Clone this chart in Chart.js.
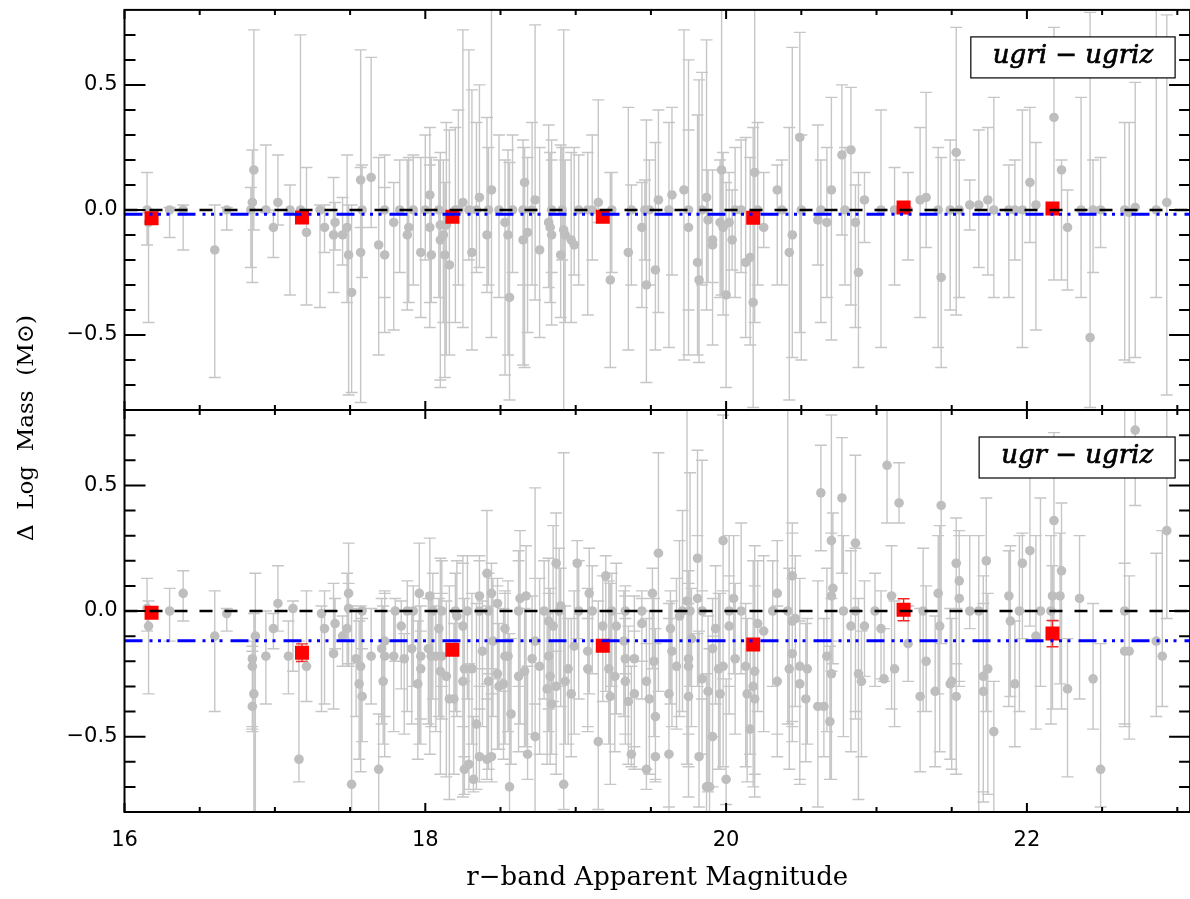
<!DOCTYPE html>
<html>
<head>
<meta charset="utf-8">
<script src="https://cdn.jsdelivr.net/npm/chart.js@4"></script>
<style>
  html, body { margin: 0; padding: 0; background: #fff; overflow: hidden; }
  canvas { position: absolute; left: 0; top: 0; }
</style>
</head>
<body>
<canvas id="bottomPanel" width="1200" height="899"></canvas>
<canvas id="topPanel" width="1200" height="420"></canvas>
<script>
// axis setup
const xMin = 16, xMax = 23.085;
const yMin = -0.8, yMax = 0.8;
const xTicks = [16, 18, 20, 22];
const yTicks = [-0.5, 0.0, 0.5];

// binned means (red squares) and mean offsets (blue lines)
const binMag = [16.18, 17.18, 18.18, 19.18, 20.18, 21.18, 22.17];
const topBin = [-0.033, -0.030, -0.027, -0.027, -0.031, 0.010, 0.006];
const topBinErr = [0.01, 0.01, 0.01, 0.01, 0.01, 0.015, 0.012];
const botBin = [-0.007, -0.166, -0.154, -0.138, -0.133, 0.005, -0.090];
const botBinErr = [0.02, 0.035, 0.02, 0.02, 0.02, 0.044, 0.052];
const topMean = -0.017;
const botMean = -0.118;

// individual galaxies: [r mag, delta log mass, error down, error up]
const topGals = [
  [16.15, 0.00, 0.14, 0.15], [16.16, -0.05, 0.40, 0.05], [16.30, 0.00, 0.11, 0.01], [16.39, 0.00, 0.16, 0.02],
  [16.60, -0.16, 0.51, 0.18], [16.68, 0.00, 0.08, 0.01], [16.86, 0.16, 0.24, 0.56], [16.85, 0.03, 0.32, 0.21],
  [16.84, 0.00, 0.23, 0.09], [16.94, 0.00, 0.01, 0.26], [16.99, -0.07, 0.12, 0.07], [17.02, 0.03, 0.09, 0.19],
  [17.10, 0.00, 0.34, 0.10], [17.17, 0.00, 0.02, 0.70], [17.21, -0.09, 0.29, 0.26], [17.30, 0.00, 0.39, 0.02],
  [17.33, -0.07, 0.10, 0.09], [17.39, -0.10, 0.23, 0.23], [17.40, -0.05, 0.11, 0.08], [17.45, -0.10, 0.12, 0.15],
  [17.48, -0.07, 0.30, 0.29], [17.49, -0.18, 0.56, 0.20], [17.51, -0.33, 0.40, 0.35], [17.57, 0.12, 0.19, 0.52],
  [17.57, -0.17, 0.60, 0.34], [17.58, 0.00, 0.27, 0.18], [17.64, 0.13, 0.20, 0.48], [17.69, -0.14, 0.44, 0.35],
  [17.73, -0.18, 0.31, 0.27], [17.73, 0.00, 0.35, 0.22],
  [17.79, -0.05, 0.43, 0.16], [17.88, -0.10, 0.30, 0.30], [17.89, -0.07, 0.30, 0.28], [17.97, -0.17, 0.26, 0.38],
  [18.03, 0.06, 0.53, 0.27], [18.03, -0.07, 0.30, 0.25], [18.04, -0.18, 0.19, 0.39], [18.10, -0.06, 0.62, 0.26],
  [18.10, -0.12, 0.59, 0.35], [18.12, -0.10, 0.35, 0.30], [18.13, -0.18, 0.49, 0.29], [18.14, -0.06, 0.52, 0.41],
  [18.16, -0.22, 0.36, 0.54], [18.20, 0.00, 0.45, 0.33], [18.25, 0.03, 0.50, 0.69], [18.29, 0.00, 0.20, 0.64],
  [18.31, -0.17, 0.39, 0.65], [18.36, 0.05, 0.28, 0.45], [18.41, -0.10, 0.23, 0.47], [18.44, 0.08, 0.59, 0.80],
  [18.53, -0.05, 0.61, 0.25], [18.55, -0.10, 0.48, 0.34], [18.56, -0.35, 0.41, 0.54], [18.66, 0.11, 0.74, 0.14],
  [18.65, -0.12, 0.50, 0.40], [18.68, -0.09, 0.40, 0.30], [18.73, 0.04, 0.40, 0.70], [18.76, -0.16, 0.35, 0.41],
  [18.82, -0.05, 0.26, 0.39], [18.83, -0.07, 0.30, 0.30], [18.84, -0.10, 0.36, 0.38], [18.90, -0.18, 0.25, 0.44],
  [18.92, -0.08, 0.80, 0.80], [18.93, -0.10, 0.35, 0.30], [18.97, -0.12, 0.33, 0.35], [18.99, -0.14, 0.12, 0.39],
  [19.08, 0.00, 0.42, 0.23], [19.15, 0.03, 0.08, 0.41], [19.23, -0.28, 0.35, 0.43], [19.35, -0.17, 0.39, 0.58],
  [19.44, -0.07, 0.32, 0.18], [19.47, -0.30, 0.39, 0.66], [19.53, -0.24, 0.32, 0.51],
  [17.83, 0.00, 0.25, 0.20], [17.92, 0.00, 0.30, 0.22], [18.00, 0.00, 0.20, 0.30], [18.09, 0.00, 0.35, 0.20],
  [18.22, 0.00, 0.30, 0.40], [18.34, 0.00, 0.25, 0.35], [18.42, 0.00, 0.30, 0.25], [18.49, 0.00, 0.35, 0.30],
  [18.58, 0.00, 0.25, 0.30], [18.65, 0.00, 0.30, 0.25], [18.71, 0.00, 0.30, 0.35], [18.84, 0.00, 0.25, 0.20],
  [18.91, 0.00, 0.20, 0.25], [19.02, 0.00, 0.30, 0.22], [19.11, 0.00, 0.20, 0.30], [19.24, 0.00, 0.25, 0.15],
  [19.37, 0.00, 0.30, 0.10], [19.46, 0.00, 0.20, 0.12],
  [19.55, 0.04, 0.45, 0.36], [19.64, 0.06, 0.32, 0.35], [19.72, 0.08, 0.68, 0.64], [19.75, -0.07, 0.51, 0.39],
  [19.81, -0.21, 0.37, 0.59], [19.82, -0.28, 0.33, 0.80], [19.87, 0.05, 0.45, 0.63], [19.88, -0.04, 0.25, 0.20],
  [19.91, -0.12, 0.17, 0.28], [19.91, -0.14, 0.40, 0.30], [19.96, -0.05, 0.30, 0.25], [19.97, 0.16, 0.50, 0.80],
  [19.98, -0.07, 0.35, 0.30], [20.00, -0.34, 0.37, 0.45], [20.02, -0.05, 0.30, 0.20], [20.04, -0.12, 0.12, 0.20],
  [20.13, -0.21, 0.30, 0.50], [20.16, -0.19, 0.35, 0.40], [20.18, -0.37, 0.42, 0.70], [20.19, 0.15, 0.60, 0.80],
  [20.25, -0.07, 0.08, 0.22], [20.34, 0.08, 0.38, 0.10], [20.44, -0.10, 0.49, 0.75], [20.42, -0.17, 0.59, 0.50],
  [20.49, 0.29, 0.78, 0.42], [20.61, -0.04, 0.18, 0.38], [20.67, -0.05, 0.30, 0.30], [20.70, 0.08, 0.60, 0.37],
  [20.77, 0.22, 0.32, 0.28], [20.83, 0.24, 0.62, 0.25], [20.86, -0.05, 0.42, 0.15], [20.88, -0.25, 0.38, 0.40],
  [20.92, 0.04, 0.17, 0.11], [21.29, 0.04, 0.47, 0.29],
  [19.49, 0.00, 0.30, 0.20], [19.62, 0.00, 0.55, 0.35], [19.75, 0.00, 0.40, 0.60], [19.84, 0.00, 0.30, 0.55],
  [20.06, 0.00, 0.35, 0.25], [20.10, 0.00, 0.25, 0.28], [20.21, 0.00, 0.30, 0.35], [20.37, 0.00, 0.30, 0.20],
  [20.50, 0.00, 0.60, 0.30], [20.63, 0.00, 0.45, 0.20], [20.79, 0.00, 0.30, 0.25], [21.03, 0.00, 0.55, 0.40],
  [21.12, 0.00, 0.30, 0.17], [21.21, 0.00, 0.20, 0.15],
  [21.33, 0.05, 0.20, 0.42], [21.43, -0.27, 0.36, 0.48], [21.53, 0.23, 0.65, 0.50], [21.62, 0.02, 0.10, 0.10],
  [21.68, 0.02, 0.25, 0.30], [21.74, 0.04, 0.30, 0.29], [22.02, 0.11, 0.24, 0.30], [22.06, 0.02, 0.50, 0.25],
  [22.18, 0.37, 0.65, 0.36], [22.23, 0.16, 0.44, 0.04], [22.27, -0.07, 0.25, 0.15], [22.42, -0.51, 0.28, 1.30],
  [22.68, -0.01, 0.60, 0.36], [22.72, 0.01, 0.60, 0.50], [22.93, 0.03, 0.77, 0.75], [22.86, 0.00, 0.35, 0.80],
  [22.44, 0.00, 0.25, 0.20], [22.49, 0.00, 0.15, 0.21], [22.36, 0.00, 0.35, 0.45], [22.65, 0.00, 0.60, 0.35],
  [21.88, 0.00, 0.35, 0.18], [21.92, 0.00, 0.20, 0.20], [21.97, 0.00, 0.55, 0.40], [21.41, 0.00, 0.55, 0.25],
  [21.49, 0.00, 0.40, 0.28], [21.55, 0.00, 0.35, 0.20], [21.78, 0.00, 0.35, 0.45]
];

const botGals = [
  [16.15, 0.01, 0.09, 0.12], [16.16, -0.06, 0.27, 0.10], [16.30, 0.00, 0.12, 0.09], [16.39, 0.07, 0.11, 0.09],
  [16.60, -0.10, 0.30, 0.18], [16.68, -0.01, 0.07, 0.02], [16.85, -0.19, 0.27, 0.05], [16.85, -0.22, 0.25, 0.10],
  [16.86, -0.33, 0.48, 0.32], [16.85, -0.38, 0.10, 0.22], [16.87, -0.10, 0.71, 0.25], [16.94, -0.18, 0.19, 0.18],
  [16.99, -0.07, 0.08, 0.06], [17.02, 0.03, 0.11, 0.15], [17.09, -0.18, 0.15, 0.14], [17.12, 0.01, 0.25, 0.03],
  [17.16, -0.59, 0.09, 0.47], [17.21, -0.22, 0.14, 0.30], [17.31, -0.01, 0.39, 0.03], [17.33, -0.07, 0.30, 0.15],
  [17.39, -0.17, 0.22, 0.28], [17.40, -0.05, 0.10, 0.10], [17.45, -0.10, 0.12, 0.08], [17.48, -0.07, 0.15, 0.22],
  [17.49, 0.07, 0.29, 0.20], [17.49, 0.01, 0.22, 0.10], [17.51, -0.69, 0.30, 0.71], [17.54, -0.19, 0.23, 0.20],
  [17.57, -0.22, 0.42, 0.24], [17.56, -0.29, 0.30, 0.25], [17.58, -0.34, 0.18, 0.31], [17.58, 0.00, 0.15, 0.01],
  [17.64, -0.18, 0.19, 0.19], [17.69, -0.63, 0.18, 0.22], [17.71, -0.15, 0.30, 0.20], [17.72, -0.28, 0.25, 0.30],
  [17.73, -0.18, 0.40, 0.25], [17.73, -0.12, 0.30, 0.20],
  [17.79, -0.18, 0.30, 0.18], [17.80, 0.00, 0.20, 0.05], [17.84, -0.06, 0.25, 0.10], [17.86, -0.19, 0.30, 0.10],
  [17.88, 0.00, 0.40, 0.12], [17.91, -0.15, 0.30, 0.15], [17.95, -0.29, 0.30, 0.25], [17.96, 0.07, 0.60, 0.20],
  [17.97, -0.18, 0.35, 0.20], [17.97, -0.23, 0.20, 0.15], [18.02, -0.15, 0.30, 0.20], [18.03, 0.06, 0.63, 0.23],
  [18.04, -0.18, 0.28, 0.25], [18.07, -0.18, 0.30, 0.20], [18.09, -0.07, 0.35, 0.12], [18.10, -0.24, 0.41, 0.45],
  [18.11, -0.18, 0.25, 0.25], [18.14, -0.26, 0.40, 0.30], [18.16, -0.35, 0.40, 0.45], [18.19, -0.35, 0.30, 0.30],
  [18.21, -0.02, 0.40, 0.22], [18.25, -0.28, 0.46, 0.50], [18.25, -0.06, 0.40, 0.25], [18.26, -0.23, 0.35, 0.28],
  [18.26, -0.63, 0.10, 0.35], [18.29, -0.61, 0.10, 0.40], [18.31, -0.23, 0.30, 0.30], [18.32, -0.67, 0.05, 0.25],
  [18.34, -0.45, 0.26, 0.48], [18.36, -0.58, 0.10, 0.35], [18.36, 0.06, 0.45, 0.16], [18.38, -0.16, 0.30, 0.20],
  [18.41, -0.59, 0.08, 0.30], [18.41, 0.15, 0.50, 0.25], [18.42, -0.28, 0.35, 0.30], [18.44, -0.58, 0.10, 0.35],
  [18.44, 0.07, 0.40, 0.12], [18.45, -0.12, 0.30, 0.25], [18.48, 0.03, 0.30, 0.10], [18.48, -0.25, 0.30, 0.35],
  [18.49, -0.30, 0.25, 0.25], [18.52, -0.29, 0.30, 0.30], [18.53, -0.07, 0.25, 0.15], [18.53, -0.18, 0.35, 0.25],
  [18.55, -0.18, 0.30, 0.30], [18.56, -0.70, 0.10, 0.61], [18.57, -0.41, 0.20, 0.30], [18.62, -0.26, 0.30, 0.50],
  [18.63, 0.05, 0.50, 0.27], [18.66, -0.24, 0.30, 0.25], [18.67, 0.06, 0.60, 0.20], [18.68, -0.57, 0.10, 0.35],
  [18.71, -0.19, 0.30, 0.25], [18.73, -0.12, 0.25, 0.25], [18.73, -0.50, 0.30, 0.99], [18.76, -0.22, 0.35, 0.35],
  [18.81, -0.31, 0.30, 0.30], [18.82, -0.04, 0.35, 0.25], [18.82, -0.18, 0.30, 0.25], [18.83, -0.26, 0.35, 0.35],
  [18.84, -0.37, 0.20, 0.25], [18.85, -0.06, 0.30, 0.40], [18.87, -0.30, 0.35, 0.30], [18.87, 0.19, 0.35, 0.20],
  [18.90, 0.02, 0.40, 0.15], [18.92, -0.69, 0.10, 1.32], [18.93, -0.28, 0.25, 0.30], [18.95, -0.23, 0.30, 0.20],
  [18.97, -0.33, 0.25, 0.30], [18.99, -0.14, 0.35, 0.22], [19.01, 0.19, 0.30, 0.09], [19.08, -0.16, 0.30, 0.25],
  [19.08, -0.23, 0.25, 0.20], [19.09, 0.07, 0.40, 0.18], [19.15, -0.52, 0.27, 0.56], [19.18, -0.06, 0.30, 0.20],
  [19.20, 0.14, 0.46, 0.08], [19.22, -0.23, 0.30, 0.35], [19.23, -0.34, 0.35, 0.45], [19.26, -0.26, 0.30, 0.25],
  [19.27, -0.06, 0.35, 0.25], [19.32, -0.12, 0.30, 0.20], [19.33, -0.19, 0.30, 0.25], [19.33, -0.28, 0.25, 0.25],
  [19.35, -0.36, 0.25, 0.30], [19.37, -0.57, 0.05, 0.35], [19.39, -0.19, 0.35, 0.25], [19.39, -0.33, 0.30, 0.25],
  [19.44, -0.05, 0.30, 0.10], [19.47, -0.63, 0.08, 0.50], [19.47, -0.28, 0.35, 0.25], [19.49, -0.35, 0.30, 0.35],
  [19.51, 0.07, 0.30, 0.10], [19.52, -0.20, 0.30, 0.25], [19.55, 0.23, 0.55, 0.40],
  [17.92, 0.00, 0.30, 0.10], [18.05, 0.00, 0.35, 0.15], [18.11, 0.00, 0.30, 0.20], [18.20, 0.00, 0.40, 0.15],
  [18.28, 0.00, 0.35, 0.22], [18.36, 0.00, 0.30, 0.20], [18.42, 0.00, 0.25, 0.15], [18.62, 0.00, 0.30, 0.20],
  [18.79, 0.00, 0.35, 0.20], [18.89, 0.00, 0.30, 0.25], [19.02, 0.00, 0.35, 0.20], [19.11, 0.00, 0.25, 0.18],
  [19.24, 0.00, 0.30, 0.15], [19.33, 0.00, 0.25, 0.10], [19.44, 0.00, 0.20, 0.08],
  [19.53, -0.42, 0.25, 0.35], [19.53, -0.58, 0.10, 0.45], [19.62, -0.57, 0.25, 0.60], [19.62, -0.33, 0.45, 0.30],
  [19.63, -0.07, 0.30, 0.15], [19.64, -0.16, 0.30, 0.20], [19.67, -0.22, 0.25, 0.35], [19.69, -0.02, 0.40, 0.30],
  [19.74, 0.04, 0.65, 0.78], [19.75, -0.34, 0.40, 0.50], [19.75, -0.19, 0.30, 0.30], [19.75, -0.22, 0.40, 0.25],
  [19.77, -0.11, 0.35, 0.20], [19.81, 0.05, 0.35, 0.25], [19.81, 0.21, 0.30, 0.43], [19.82, -0.58, 0.20, 0.50],
  [19.84, -0.27, 0.30, 0.35], [19.87, -0.70, 0.10, 0.45], [19.88, -0.32, 0.40, 0.30], [19.89, -0.70, 0.10, 0.55],
  [19.91, -0.50, 0.20, 0.40], [19.91, -0.15, 0.35, 0.20], [19.93, -0.07, 0.30, 0.25], [19.95, -0.23, 0.40, 0.30],
  [19.96, -0.33, 0.30, 0.40], [19.98, 0.28, 0.55, 0.50], [19.98, -0.22, 0.40, 0.30], [20.00, -0.67, 0.10, 0.40],
  [20.02, -0.06, 0.35, 0.20], [20.05, 0.05, 0.30, 0.25], [20.06, -0.19, 0.30, 0.30], [20.13, -0.22, 0.40, 0.25],
  [20.14, -0.33, 0.35, 0.30], [20.16, -0.47, 0.10, 0.35], [20.18, -0.30, 0.40, 0.50], [20.19, -0.24, 0.50, 0.50],
  [20.19, -0.35, 0.30, 0.45], [20.21, -0.05, 0.35, 0.25], [20.25, -0.08, 0.40, 0.30], [20.34, 0.07, 0.56, 0.21],
  [20.34, -0.28, 0.30, 0.30], [20.42, -0.23, 0.40, 0.40], [20.44, -0.17, 0.35, 0.30], [20.44, 0.14, 0.60, 0.21],
  [20.44, -0.04, 0.40, 0.35], [20.46, -0.03, 0.35, 0.25], [20.49, -0.22, 0.45, 0.35], [20.49, -0.29, 0.40, 0.25],
  [20.53, -0.35, 0.25, 0.30], [20.54, -0.23, 0.30, 0.20], [20.61, -0.38, 0.40, 0.50], [20.63, 0.47, 0.23, 0.19],
  [20.65, -0.38, 0.20, 0.35], [20.67, -0.18, 0.30, 0.35], [20.69, -0.44, 0.23, 0.30], [20.70, 0.28, 0.40, 0.50],
  [20.70, -0.25, 0.42, 0.30], [20.70, 0.06, 0.30, 0.25], [20.71, 0.09, 0.30, 0.30], [20.77, 0.45, 0.30, 0.24],
  [20.78, 0.00, 0.50, 0.30], [20.83, -0.06, 0.50, 0.30], [20.86, 0.27, 0.70, 0.35], [20.88, -0.25, 0.50, 0.30],
  [20.90, -0.28, 0.30, 0.20], [20.92, -0.06, 0.20, 0.18], [21.03, -0.07, 0.20, 0.15], [21.05, -0.27, 0.01, 0.20],
  [21.07, 0.58, 0.23, 0.23], [21.10, 0.06, 0.45, 0.20], [21.12, -0.23, 0.23, 0.27], [21.15, 0.43, 0.08, 0.16],
  [21.21, -0.13, 0.15, 0.15], [21.29, -0.34, 0.30, 0.35], [21.31, 0.00, 0.40, 0.25], [21.33, -0.20, 0.20, 0.30],
  [19.71, 0.00, 0.40, 0.40], [19.76, 0.00, 0.30, 0.55], [19.84, 0.00, 0.35, 0.60], [20.02, 0.00, 0.30, 0.30],
  [20.10, 0.00, 0.25, 0.35], [20.31, 0.00, 0.30, 0.20], [20.41, 0.00, 0.45, 0.80], [20.86, 0.00, 0.40, 0.25],
  [20.99, 0.00, 0.30, 0.15],
  [21.39, -0.32, 0.30, 0.30], [21.41, 0.07, 0.40, 0.23], [21.42, -0.06, 0.50, 0.40], [21.43, 0.42, 0.55, 0.40],
  [21.49, -0.29, 0.30, 0.30], [21.50, -0.28, 0.35, 0.25], [21.53, 0.19, 0.40, 0.18], [21.53, -0.34, 0.31, 0.35],
  [21.55, 0.12, 0.40, 0.20], [21.55, 0.05, 0.35, 0.25], [21.62, 0.00, 0.07, 0.30], [21.68, 0.00, 0.80, 0.30],
  [21.71, -0.26, 0.50, 0.40], [21.71, -0.32, 0.40, 0.35], [21.73, 0.20, 0.60, 0.25], [21.74, -0.23, 0.50, 0.30],
  [21.78, -0.48, 0.40, 0.20], [21.88, 0.06, 0.44, 0.18], [21.89, -0.04, 0.30, 0.30], [21.92, -0.29, 0.25, 0.25],
  [21.95, 0.00, 0.40, 0.30], [21.97, 0.19, 0.30, 0.12], [22.02, 0.24, 0.30, 0.30], [22.06, -0.10, 0.37, 0.40],
  [22.09, 0.00, 0.30, 0.45], [22.16, 0.00, 0.45, 0.30], [22.18, 0.36, 0.40, 0.35], [22.17, 0.06, 0.45, 0.12],
  [22.22, 0.06, 0.35, 0.25], [22.23, 0.16, 0.55, 0.27], [22.27, -0.31, 0.35, 0.20], [22.35, 0.05, 0.40, 0.25],
  [22.44, -0.27, 0.20, 0.30], [22.49, -0.63, 0.15, 0.50], [22.65, 0.00, 0.45, 0.80], [22.65, -0.16, 0.30, 0.35],
  [22.68, -0.16, 0.35, 0.30], [22.72, 0.72, 0.30, 0.10], [22.86, -0.12, 0.30, 0.35], [22.90, -0.18, 0.20, 0.50],
  [22.93, 0.32, 0.35, 0.50]
];

const GRAY_PT = 'rgb(190,190,190)';
const GRAY_BAR = 'rgb(198,198,198)';

// error bars, frame with inward ticks, label box
function makePanelPlugin(gals, bins, binErr, label, withYTitle) {
  return {
    id: 'panelDeco',
    beforeDatasetsDraw(chart) {
      const {ctx, chartArea: a, scales: {x, y}} = chart;
      ctx.save();
      ctx.beginPath();
      ctx.rect(a.left, a.top, a.right - a.left, a.bottom - a.top);
      ctx.clip();
      const bar = (xv, lo, hi) => {
        const px = x.getPixelForValue(xv);
        const p1 = y.getPixelForValue(lo), p2 = y.getPixelForValue(hi);
        ctx.moveTo(px, p1); ctx.lineTo(px, p2);
        ctx.moveTo(px - 6, p1); ctx.lineTo(px + 6, p1);
        ctx.moveTo(px - 6, p2); ctx.lineTo(px + 6, p2);
      };
      ctx.strokeStyle = GRAY_BAR;
      ctx.lineWidth = 1.4;
      ctx.beginPath();
      gals.forEach(g => bar(g[0], g[1] - g[2], g[1] + g[3]));
      ctx.stroke();
      ctx.strokeStyle = 'rgb(240,40,40)';
      ctx.lineWidth = 1.4;
      ctx.beginPath();
      binMag.forEach((m, i) => bar(m, bins[i] - binErr[i], bins[i] + binErr[i]));
      ctx.stroke();
      ctx.restore();
    },
    afterDraw(chart) {
      const {ctx, chartArea: a, scales: {x, y}} = chart;
      ctx.save();
      ctx.strokeStyle = '#000';
      ctx.lineWidth = 2;
      ctx.strokeRect(a.left, a.top, a.right - a.left, a.bottom - a.top);
      ctx.beginPath();
      for (let v = xMin; v <= xMax + 1e-6; v += 0.5) {
        const px = x.getPixelForValue(v);
        const len = xTicks.includes(v) ? 9 : 5;
        ctx.moveTo(px, a.top); ctx.lineTo(px, a.top + len);
        ctx.moveTo(px, a.bottom); ctx.lineTo(px, a.bottom - len);
      }
      for (let k = -7; k <= 7; k++) {
        const v = k / 10;
        const py = y.getPixelForValue(v);
        const len = k % 5 === 0 ? 21 : 11;
        ctx.moveTo(a.left, py); ctx.lineTo(a.left + len, py);
        ctx.moveTo(a.right, py); ctx.lineTo(a.right - len, py);
      }
      ctx.stroke();

      // label box
      ctx.font = 'italic 26px "DejaVu Serif"';
      const tw = ctx.measureText(label).width;
      const bw = tw + 44, bh = 41;
      const bx = a.right - 15 - bw, by = a.top + 27;
      ctx.fillStyle = '#fff';
      ctx.fillRect(bx, by, bw, bh);
      ctx.lineWidth = 1.2;
      ctx.strokeRect(bx, by, bw, bh);
      ctx.fillStyle = '#000';
      ctx.textAlign = 'center';
      ctx.textBaseline = 'middle';
      ctx.fillText(label, bx + bw / 2, by + bh / 2 - 1);
      ctx.lineWidth = 0.7;
      ctx.strokeText(label, bx + bw / 2, by + bh / 2 - 1);

      if (withYTitle) {
        ctx.translate(27, a.top + 18);
        ctx.rotate(-Math.PI / 2);
        ctx.font = '23px "DejaVu Serif"';
        ctx.fillText('\u0394  Log  Mass  (M\u2299)', 0, 0);
      }
      ctx.restore();
    }
  };
}

function panelConfig(gals, bins, mean, label, isBottom, binErr) {
  const tickFont = {family: '"DejaVu Sans"', size: 21};
  return {
    type: 'scatter',
    data: {
      datasets: [
        {
          data: [{x: xMin, y: 0}, {x: xMax, y: 0}],
          showLine: true, borderColor: '#000', borderWidth: 2.6,
          borderDash: [13, 12], pointRadius: 0
        },
        {
          data: [{x: xMin, y: mean}, {x: xMax, y: mean}],
          showLine: true, borderColor: 'rgb(0,0,255)', borderWidth: 3,
          borderDash: [18, 7, 3, 5.5, 3, 5.5, 3, 8], pointRadius: 0
        },
        {
          data: binMag.map((m, i) => ({x: m, y: bins[i]})),
          pointStyle: 'rect', pointRadius: 9.9, backgroundColor: 'rgb(255,0,0)', borderWidth: 0
        },
        {
          data: gals.map(g => ({x: g[0], y: g[1]})),
          pointRadius: 4.8, backgroundColor: GRAY_PT, borderWidth: 0
        }
      ]
    },
    options: {
      responsive: false,
      animation: false,
      events: [],
      layout: {padding: isBottom ? {top: 410, right: 7, bottom: 0, left: 0} : {top: 7, right: 7, bottom: 10, left: 0}},
      plugins: {legend: {display: false}, tooltip: {enabled: false}},
      scales: {
        x: {
          type: 'linear', min: xMin, max: xMax,
          display: isBottom,
          afterBuildTicks: s => { s.ticks = xTicks.map(v => ({value: v})); },
          afterFit: s => { s.height = isBottom ? 87 : 0; s.paddingLeft = 0; s.paddingRight = 0; },
          grid: {display: false, drawTicks: false},
          border: {display: false},
          ticks: {font: tickFont, color: '#000', padding: 16, maxRotation: 0, callback: v => String(v)},
          title: {
            display: true, text: 'r\u2212band Apparent Magnitude', color: '#000',
            font: {family: '"DejaVu Serif"', size: 26}, padding: {top: 0, bottom: 5}
          }
        },
        y: {
          type: 'linear', min: yMin, max: yMax,
          afterBuildTicks: s => { s.ticks = yTicks.map(v => ({value: v})); },
          afterFit: s => { s.width = 124.5; s.paddingTop = 0; s.paddingBottom = 0; },
          grid: {display: false, drawTicks: false},
          border: {display: false},
          ticks: {
            font: tickFont, color: '#000', padding: 7,
            callback: v => (v < 0 ? '\u2212' : '') + Math.abs(v).toFixed(1)
          }
        }
      }
    },
    plugins: [makePanelPlugin(gals, bins, binErr, label, isBottom)]
  };
}

new Chart(document.getElementById('bottomPanel'),
  panelConfig(botGals, botBin, botMean, 'ugr \u2212 ugriz', true, botBinErr));
new Chart(document.getElementById('topPanel'),
  panelConfig(topGals, topBin, topMean, 'ugri \u2212 ugriz', false, topBinErr));
</script>
</body>
</html>
